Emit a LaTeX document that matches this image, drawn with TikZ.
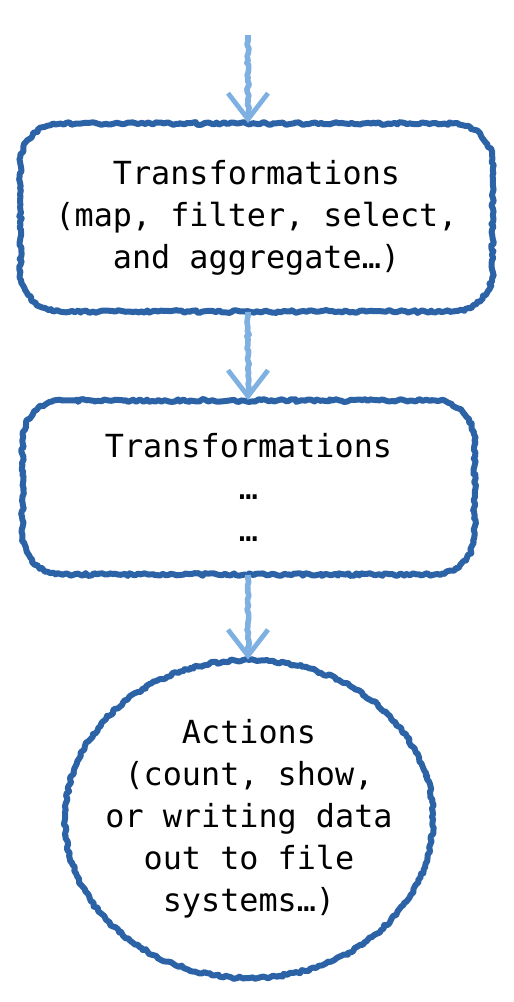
\documentclass[tikz,border=0pt]{standalone}
\usepackage{fontspec}
\setmonofont{DejaVu Sans Mono}
\usetikzlibrary{arrows.meta,shapes.geometric,decorations.pathmorphing}
\definecolor{penblue}{RGB}{44,98,166}
\definecolor{arrowblue}{RGB}{126,176,226}
\tikzset{sketch/.style={postaction={draw=penblue,line width=3pt,line join=round,line cap=round,sharp corners,decorate,decoration={random steps,segment length=1.4pt,amplitude=.7pt}}},
  stepbox/.style={sketch,rectangle,rounded corners=20pt,align=center},
  flow/.style={arrowblue,line width=2.8pt,line join=round,-{Straight Barb[length=13pt,width=20pt,line width=2.4pt]},decorate,decoration={random steps,segment length=1.5pt,amplitude=.6pt,pre length=2pt,post length=4pt}}}

\begin{document}
\begin{tikzpicture}[x=.5pt,y=-.5pt,font=\ttfamily\fontsize{15.9}{21}\selectfont]
\useasboundingbox (0,0) rectangle (514,1002);
\coordinate (in) at (248,35);
\node[stepbox,minimum width=236pt,minimum height=94pt] (trans) at (256.5,217.5){Transformations\\(map, filter, select,\\and aggregate…)};
\node[stepbox,minimum width=226pt,minimum height=87pt] (more) at (248.5,487.5){Transformations\\…\\…};
\node[sketch,ellipse,minimum width=184pt,minimum height=159pt,inner sep=0pt,label={[align=center]center:Actions\\(count, show,\\or writing data\\out to file\\systems…)}] (act) at (249,819){};
\draw[flow] (in)--(in|-trans.north);
\draw[flow] (in|-trans.south)--(in|-more.north);
\draw[flow] (in|-more.south)--(in|-act.north);
\end{tikzpicture}
\end{document}
